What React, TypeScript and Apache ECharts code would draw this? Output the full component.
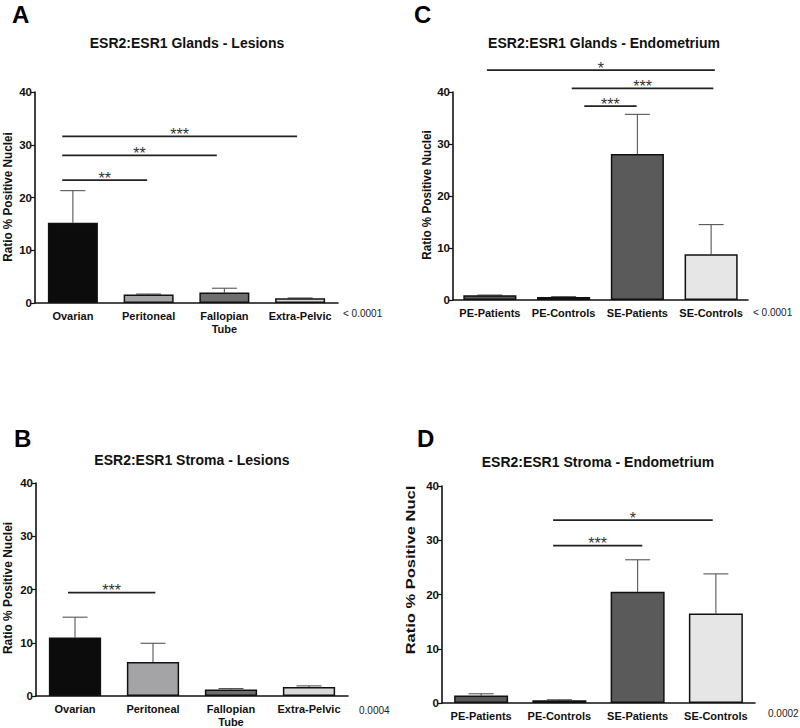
import React, { useEffect, useRef } from "react";
import * as echarts from "echarts";

// ---- Data ----
const lesionCats = ["Ovarian", "Peritoneal", "Fallopian\nTube", "Extra-Pelvic"];
const endoCats = ["PE-Patients", "PE-Controls", "SE-Patients", "SE-Controls"];

const glandsLesionsMean = [15.2, 1.6, 2.0, 0.9];
const glandsLesionsErr = [21.3, 1.7, 2.8, 0.95];
const stromaLesionsMean = [11.0, 6.4, 1.2, 1.7];
const stromaLesionsErr = [14.8, 9.9, 1.4, 1.9];
const glandsEndoMean = [0.9, 0.6, 28.1, 8.8];
const glandsEndoErr = [0.95, 0.65, 35.7, 14.5];
const stromaEndoMean = [1.4, 0.5, 20.5, 16.5];
const stromaEndoErr = [1.7, 0.6, 26.4, 23.8];

const lesionColors = ["#0c0c0c", "#a4a4a6", "#6e6e6e", "#d9d9d9"];
const endoColors = ["#5a5a5a", "#9e9e9e", "#5a5a5a", "#e6e6e6"];

// significance: [from category position, to category position, y value, stars]
const sigA: [number, number, number, string][] = [
  [-0.14, 2.96, 31.6, "***"],
  [-0.14, 1.9, 28.0, "**"],
  [-0.14, 0.98, 23.3, "**"],
];
const sigB: [number, number, number, string][] = [[-0.09, 1.03, 19.4, "***"]];
const sigC: [number, number, number, string][] = [
  [-0.04, 3.05, 44.2, "*"],
  [1.11, 3.03, 40.7, "***"],
  [1.28, 1.99, 37.3, "***"],
];
const sigD: [number, number, number, string][] = [
  [0.92, 2.96, 33.7, "*"],
  [0.92, 2.06, 29.0, "***"],
];

const yTicks = [0, 10, 20, 30, 40];

const FONT = "'Liberation Sans', Arial, Helvetica, sans-serif";

type Panel = {
  letter: string;
  title: string;
  cats: string[];
  mean: number[];
  err: number[];
  colors: string[];
  sig: [number, number, number, string][];
  pval: string;
  yName: string;
  grid: { left: number; top: number; width: number; height: number };
  titlePos: [number, number];
  letterPos: [number, number];
  pPos: [number, number];
  yNamePos: [number, number];
  yNameScale: number;
  barWidth: string;
};

const panels: Panel[] = [
  {
    letter: "A",
    title: "ESR2:ESR1 Glands - Lesions",
    cats: lesionCats,
    mean: glandsLesionsMean,
    err: glandsLesionsErr,
    colors: lesionColors,
    sig: sigA,
    pval: "< 0.0001",
    yName: "Ratio % Positive Nuclei",
    grid: { left: 35, top: 92, width: 303, height: 211 },
    titlePos: [187, 43],
    letterPos: [12, 14],
    pPos: [343, 313],
    yNamePos: [8, 197],
    yNameScale: 0.9,
    barWidth: "66%",
  },
  {
    letter: "B",
    title: "ESR2:ESR1 Stroma - Lesions",
    cats: lesionCats,
    mean: stromaLesionsMean,
    err: stromaLesionsErr,
    colors: lesionColors,
    sig: sigB,
    pval: "0.0004",
    yName: "Ratio % Positive Nuclei",
    grid: { left: 36, top: 483, width: 312, height: 215 },
    titlePos: [192, 460],
    letterPos: [14, 438],
    pPos: [359, 710],
    yNamePos: [8, 588],
    yNameScale: 0.92,
    barWidth: "67%",
  },
  {
    letter: "C",
    title: "ESR2:ESR1 Glands - Endometrium",
    cats: endoCats,
    mean: glandsEndoMean,
    err: glandsEndoErr,
    colors: endoColors,
    sig: sigC,
    pval: "< 0.0001",
    yName: "Ratio % Positive Nuclei",
    grid: { left: 453, top: 92, width: 295, height: 208 },
    titlePos: [604, 43],
    letterPos: [414, 14],
    pPos: [753, 312],
    yNamePos: [427, 195],
    yNameScale: 0.9,
    barWidth: "72%",
  },
  {
    letter: "D",
    title: "ESR2:ESR1 Stroma - Endometrium",
    cats: endoCats,
    mean: stromaEndoMean,
    err: stromaEndoErr,
    colors: endoColors,
    sig: sigD,
    pval: "0.0002",
    yName: "Ratio % Positive Nucl",
    grid: { left: 442, top: 486, width: 313, height: 217 },
    titlePos: [598, 462],
    letterPos: [417, 438],
    pPos: [768, 713],
    yNamePos: [411, 570],
    yNameScale: 1.27,
    barWidth: "69%",
  },
];

export default function App() {
  const ref = useRef<HTMLDivElement>(null);

  useEffect(() => {
    if (!ref.current) return;
    const chart = echarts.init(ref.current, undefined, { renderer: "svg" });

    const grids: any[] = [];
    const xAxes: any[] = [];
    const yAxes: any[] = [];
    const series: any[] = [];
    const graphics: any[] = [];

    panels.forEach((p, i) => {
      grids.push({ ...p.grid });
      xAxes.push({
        type: "category",
        gridIndex: i,
        data: p.cats,
        axisLine: { lineStyle: { color: "#111", width: 1.6 } },
        axisTick: { alignWithLabel: true, length: 4, lineStyle: { color: "#111", width: 1.2 } },
        axisLabel: {
          interval: 0,
          color: "#111",
          fontWeight: "bold",
          fontSize: 11,
          fontFamily: FONT,
          margin: 6,
          lineHeight: 13,
        },
      });
      yAxes.push({
        type: "value",
        gridIndex: i,
        min: yTicks[0],
        max: yTicks[yTicks.length - 1],
        interval: 10,
        splitLine: { show: false },
        axisLine: { show: true, lineStyle: { color: "#111", width: 1.6 } },
        axisTick: { show: true, length: 4, lineStyle: { color: "#111", width: 1.2 } },
        axisLabel: {
          color: "#111",
          fontWeight: "bold",
          fontSize: 11.5,
          fontFamily: FONT,
          margin: 3,
        },
      });

      series.push({
        type: "bar",
        xAxisIndex: i,
        yAxisIndex: i,
        barWidth: p.barWidth,
        z: 3,
        data: p.mean.map((v, k) => ({
          value: v,
          itemStyle: { color: p.colors[k], borderColor: "#111", borderWidth: 1.5 },
        })),
      });

      // error bars (upper only)
      series.push({
        type: "custom",
        xAxisIndex: i,
        yAxisIndex: i,
        z: 2,
        data: p.err.map((e, k) => [k, e]),
        renderItem: (params: any, api: any) => {
          const k = params.dataIndex;
          const top = api.coord([k, p.err[k]]);
          const base = api.coord([k, p.mean[k]]);
          const hw = 12.5;
          return {
            type: "group",
            children: [
              {
                type: "line",
                shape: { x1: top[0], y1: top[1], x2: base[0], y2: base[1] },
                style: { stroke: "#555", lineWidth: 1.1 },
              },
              {
                type: "line",
                shape: { x1: top[0] - hw, y1: top[1], x2: top[0] + hw, y2: top[1] },
                style: { stroke: "#555", lineWidth: 1.1 },
              },
            ],
          };
        },
      });

      // significance bars
      series.push({
        type: "custom",
        xAxisIndex: i,
        yAxisIndex: i,
        z: 4,
        clip: false,
        data: p.sig.map((s) => [0, s[2]]),
        renderItem: (params: any, api: any) => {
          const s = p.sig[params.dataIndex];
          const c0 = api.coord([0, s[2]]);
          const bw = api.size([1, 0])[0];
          const x1 = c0[0] + s[0] * bw;
          const x2 = c0[0] + s[1] * bw;
          return {
            type: "group",
            children: [
              {
                type: "line",
                shape: { x1, y1: c0[1], x2, y2: c0[1] },
                style: { stroke: "#222", lineWidth: 1.8 },
              },
              {
                type: "text",
                x: (x1 + x2) / 2,
                y: c0[1] - 2,
                style: {
                  text: s[3],
                  fill: "#333",
                  font: `16px ${FONT}`,
                  align: "center",
                  verticalAlign: "middle",
                },
              },
            ],
          };
        },
      });

      graphics.push(
        {
          type: "text",
          x: p.letterPos[0],
          y: p.letterPos[1],
          style: {
            text: p.letter,
            fill: "#000",
            font: `bold 24px ${FONT}`,
            align: "left",
            verticalAlign: "middle",
          },
        },
        {
          type: "text",
          x: p.titlePos[0],
          y: p.titlePos[1],
          style: {
            text: p.title,
            fill: "#111",
            font: `bold 14px ${FONT}`,
            align: "center",
            verticalAlign: "middle",
          },
        },
        {
          type: "text",
          x: p.pPos[0],
          y: p.pPos[1],
          style: {
            text: p.pval,
            fill: "#222",
            font: `10px ${FONT}`,
            align: "left",
            verticalAlign: "middle",
          },
        },
        {
          type: "text",
          x: p.yNamePos[0],
          y: p.yNamePos[1],
          rotation: Math.PI / 2,
          scaleX: p.yNameScale,
          style: {
            text: p.yName,
            fill: "#111",
            font: `bold 13px ${FONT}`,
            align: "center",
            verticalAlign: "middle",
          },
        }
      );
    });

    chart.setOption({
      animation: false,
      backgroundColor: "#ffffff",
      grid: grids,
      xAxis: xAxes,
      yAxis: yAxes,
      series,
      graphic: graphics,
    });

    return () => chart.dispose();
  }, []);

  return (
    <div
      ref={ref}
      style={{ position: "fixed", left: 0, top: 0, width: 800, height: 728, background: "#fff" }}
    />
  );
}
